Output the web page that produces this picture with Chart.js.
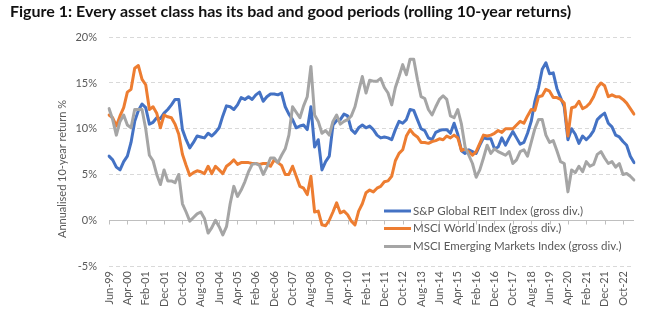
<!DOCTYPE html>
<html>
<head>
<meta charset="utf-8">
<script src="https://cdn.jsdelivr.net/npm/chart.js@4.4.1/dist/chart.umd.min.js"></script>
<style>
  html, body { margin: 0; padding: 0; background: #fff; }
  #wrap { width: 658px; height: 333px; }
</style>
</head>
<body>
<div id="wrap"><canvas id="chart" width="658" height="333"></canvas></div>
<script>
// ===== Data (rolling 10-year annualised returns, %, every 2nd month from Jun-99) =====
const START_YEAR = 1999;
const START_MONTH = 5; // June (0-based)
const STEP_MONTHS = 2;

const tickLabels = [
  'Jun-99', 'Apr-00', 'Feb-01', 'Dec-01', 'Oct-02', 'Aug-03', 'Jun-04', 'Apr-05',
  'Feb-06', 'Dec-06', 'Oct-07', 'Aug-08', 'Jun-09', 'Apr-10', 'Feb-11', 'Dec-11',
  'Oct-12', 'Aug-13', 'Jun-14', 'Apr-15', 'Feb-16', 'Dec-16', 'Oct-17', 'Aug-18',
  'Jun-19', 'Apr-20', 'Feb-21', 'Dec-21', 'Oct-22'
];

const seriesNames = [
  'S&P Global REIT Index (gross div.)',
  'MSCI World Index (gross div.)',
  'MSCI Emerging Markets Index (gross div.)'
];

const reitReturns = [
  7.0, 6.6, 5.8, 5.5, 6.4, 7.0, 8.5, 10.8, 12.0, 12.7,
  12.3, 10.5, 10.7, 11.2, 11.1, 11.7, 12.1, 12.6, 13.2, 13.2,
  9.9, 8.8, 7.9, 8.5, 9.2, 9.1, 9.0, 9.5, 9.2, 9.6,
  10.1, 11.4, 12.5, 12.4, 12.1, 12.6, 13.4, 13.2, 13.5, 13.2,
  13.7, 14.0, 13.0, 13.5, 13.8, 13.8, 13.7, 13.9, 12.4, 11.6,
  11.0, 10.1, 10.3, 10.4, 9.9, 12.4, 8.0, 8.8, 5.5, 6.4,
  7.0, 10.4, 10.9, 11.0, 11.6, 11.4, 9.9, 9.5, 10.1, 10.4,
  10.1, 10.3, 9.9, 9.3, 9.0, 9.1, 9.0, 8.8, 9.9, 10.8,
  10.6, 11.0, 12.1, 12.0, 11.0, 10.0, 9.8, 9.0, 8.8, 9.6,
  9.8, 9.9, 9.9, 9.5, 10.6, 9.4, 7.6, 7.3, 7.7, 7.5,
  7.3, 8.2, 9.0, 8.9, 8.9, 7.8, 8.0, 9.0, 8.2, 9.0,
  9.7, 9.0, 8.3, 8.5, 9.5, 10.8, 13.0, 14.5, 16.5, 17.2,
  16.0, 16.1, 14.4, 13.4, 12.4, 8.8, 10.0, 9.4, 8.4, 9.2,
  8.8, 9.2, 9.8, 11.0, 11.4, 11.7, 10.6, 10.2, 9.3, 9.1,
  8.6, 8.2, 7.0, 6.3
];

const worldReturns = [
  11.5, 11.2, 10.3, 11.4, 12.3, 14.0, 14.3, 16.6, 16.9, 15.4,
  14.8, 12.1, 12.4, 11.7, 10.1, 11.5, 11.3, 11.2, 10.5, 9.4,
  7.2, 6.0, 4.9, 5.2, 5.4, 5.3, 5.1, 5.9, 5.1, 5.9,
  5.5, 5.1, 5.9, 6.2, 6.6, 6.1, 6.3, 6.3, 6.3, 6.2,
  6.2, 6.1, 6.2, 6.2, 5.9, 6.6, 6.3, 6.0, 5.0, 5.0,
  5.9, 4.8, 3.7, 3.5, 2.8, 4.8, 0.9, 1.0, -0.5, -0.6,
  0.0, 0.9, 1.9, 0.8, 1.0, 0.6, -0.1, -0.5, 1.0, 1.8,
  3.0, 3.3, 3.1, 3.5, 3.7, 4.2, 4.3, 4.8, 6.5, 7.3,
  7.7, 9.2, 9.9, 9.4, 9.1, 8.5, 8.5, 8.4, 8.6, 8.7,
  8.9, 8.8, 9.2, 9.0, 9.3, 9.0, 7.6, 7.8, 7.5, 7.1,
  7.5, 8.4, 9.3, 9.2, 9.3, 9.5, 9.8, 9.6, 10.0, 10.0,
  10.0, 10.4, 10.8, 10.6, 11.4, 12.1, 12.0, 13.5, 13.6, 14.3,
  14.1, 13.4, 13.4, 13.2, 12.8, 9.2, 12.3, 12.4, 13.0, 12.2,
  12.4, 12.8, 13.5, 14.5, 15.0, 14.7, 13.5, 13.7, 13.5, 13.5,
  13.2, 12.8, 12.2, 11.6
];

const emReturns = [
  12.2, 11.0, 9.3, 10.8, 11.5, 10.4, 10.1, 12.1, 12.1, 12.1,
  10.0, 7.1, 6.5, 5.0, 3.9, 5.5, 4.3, 4.3, 4.1, 5.0,
  1.8, 0.9, -0.1, 0.3, 0.7, 0.9, 0.2, -1.4, -0.8, 0.0,
  -0.7, -1.6, -0.7, 1.8, 3.7, 2.6, 3.3, 4.2, 5.3, 6.1,
  6.2, 6.0, 5.0, 5.8, 6.8, 6.8, 6.3, 7.1, 7.8, 9.3,
  12.4, 11.8, 11.2, 12.5, 13.5, 16.8, 11.5, 10.8, 9.5, 9.8,
  9.3, 10.8, 11.5, 10.5, 10.8, 11.0, 11.4, 12.4, 14.1, 15.7,
  13.9, 15.3, 15.2, 15.2, 15.5, 14.5, 13.9, 12.6, 14.5, 15.7,
  17.0, 15.9, 17.6, 17.6, 15.4, 13.5, 13.3, 12.1, 11.5, 12.4,
  13.2, 13.6, 13.2, 11.4, 11.2, 12.1, 10.5, 8.0, 7.1, 6.2,
  4.7, 5.5, 6.8, 8.2, 7.3, 7.8, 7.5, 7.3, 7.1, 7.5,
  6.2, 6.6, 7.5, 7.7, 7.0, 8.5, 10.0, 11.0, 11.0, 9.3,
  8.5, 8.7, 7.6, 6.4, 6.2, 3.1, 5.5, 5.2, 5.9, 5.3,
  6.4, 5.9, 6.1, 7.2, 7.5, 6.8, 6.2, 6.4, 5.8, 6.2,
  5.0, 5.1, 4.8, 4.4
];

const seriesColors = ['#4472C4', '#ED7D31', '#A5A5A5'];

// month labels for each point (Mmm-YY)
const MONTHS = ['Jan', 'Feb', 'Mar', 'Apr', 'May', 'Jun', 'Jul', 'Aug', 'Sep', 'Oct', 'Nov', 'Dec'];
const periods = reitReturns.map((_, i) => {
  const total = START_MONTH + i * STEP_MONTHS;
  const y = START_YEAR + Math.floor(total / 12);
  return `${MONTHS[total % 12]}-${String(y % 100).padStart(2, '0')}`;
});

const FONT = 'Lato, "Open Sans", sans-serif';
const TEXT_GREY = '#595959';

// solid 0% axis line with small tick marks every 10 months
const zeroAxis = {
  id: 'zeroAxis',
  beforeDatasetsDraw(chart) {
    const { ctx, chartArea, scales } = chart;
    const y0 = Math.round(scales.y.getPixelForValue(0)) + 0.5;
    ctx.save();
    ctx.strokeStyle = '#bfbfbf';
    ctx.lineWidth = 1;
    ctx.beginPath();
    ctx.moveTo(chartArea.left, y0);
    ctx.lineTo(chartArea.right, y0);
    for (let i = 0; i < periods.length; i += 5) {
      const x = Math.round(scales.x.getPixelForValue(i)) + 0.5;
      ctx.moveTo(x, y0);
      ctx.lineTo(x, y0 + 4);
    }
    ctx.stroke();
    ctx.restore();
  }
};

// y-axis title and in-plot legend, placed like the original
const overlay = {
  id: 'overlay',
  afterDraw(chart) {
    const { ctx } = chart;
    ctx.save();
    ctx.fillStyle = TEXT_GREY;
    ctx.font = `11px ${FONT}`;
    ctx.textAlign = 'center';
    ctx.textBaseline = 'middle';
    ctx.translate(62, 169);
    ctx.rotate(-Math.PI / 2);
    ctx.fillText('Annualised 10-year return %', 0, 0);
    ctx.restore();

    ctx.save();
    ctx.font = `11.5px ${FONT}`;
    ctx.textBaseline = 'middle';
    ctx.lineWidth = 3;
    const rows = [211, 228.5, 246.5];
    seriesNames.forEach((name, i) => {
      ctx.strokeStyle = seriesColors[i];
      ctx.beginPath();
      ctx.moveTo(384, rows[i]);
      ctx.lineTo(411, rows[i]);
      ctx.stroke();
      ctx.fillStyle = TEXT_GREY;
      ctx.fillText(name, 413, rows[i]);
    });
    ctx.restore();
  }
};

const dataArrays = [reitReturns, worldReturns, emReturns];

new Chart(document.getElementById('chart'), {
  type: 'line',
  data: {
    labels: periods,
    datasets: seriesNames.map((name, i) => ({
      label: name,
      data: dataArrays[i],
      borderColor: seriesColors[i],
      backgroundColor: seriesColors[i],
      borderWidth: 3,
      pointRadius: 0,
      tension: 0,
      borderJoinStyle: 'round',
      borderCapStyle: 'round',
      order: 2 - i,
    }))
  },
  options: {
    responsive: false,
    animation: false,
    layout: { padding: { left: 10, right: 24, top: 0, bottom: 0 } },
    plugins: {
      legend: { display: false },
      tooltip: { enabled: false },
      title: {
        display: true,
        text: 'Figure 1: Every asset class has its bad and good periods (rolling 10-year returns)',
        align: 'start',
        color: '#111',
        font: { family: FONT, size: 16, weight: 'bold' },
        padding: { top: 2, bottom: 16 }
      }
    },
    scales: {
      x: {
        grid: { display: false, drawTicks: false },
        border: { display: false },
        ticks: {
          autoSkip: false,
          minRotation: 90,
          maxRotation: 90,
          padding: 5,
          color: TEXT_GREY,
          font: { family: FONT, size: 11 },
          callback: (v, i) => (i % 5 === 0 ? tickLabels[i / 5] : '')
        },
        afterFit: (scale) => { scale.height = 67; }
      },
      y: {
        min: -5,
        max: 20,
        grid: {
          drawTicks: false,
          color: (c) => (c.tick && c.tick.value === 0 ? 'rgba(0,0,0,0)' : '#d9d9d9')
        },
        border: { display: false, dash: [4, 3] },
        ticks: {
          stepSize: 5,
          padding: 12,
          color: TEXT_GREY,
          font: { family: FONT, size: 11 },
          callback: (v) => `${v}%`
        },
        afterFit: (scale) => { scale.width = 99; }
      }
    }
  },
  plugins: [zeroAxis, overlay]
});
</script>
</body>
</html>
